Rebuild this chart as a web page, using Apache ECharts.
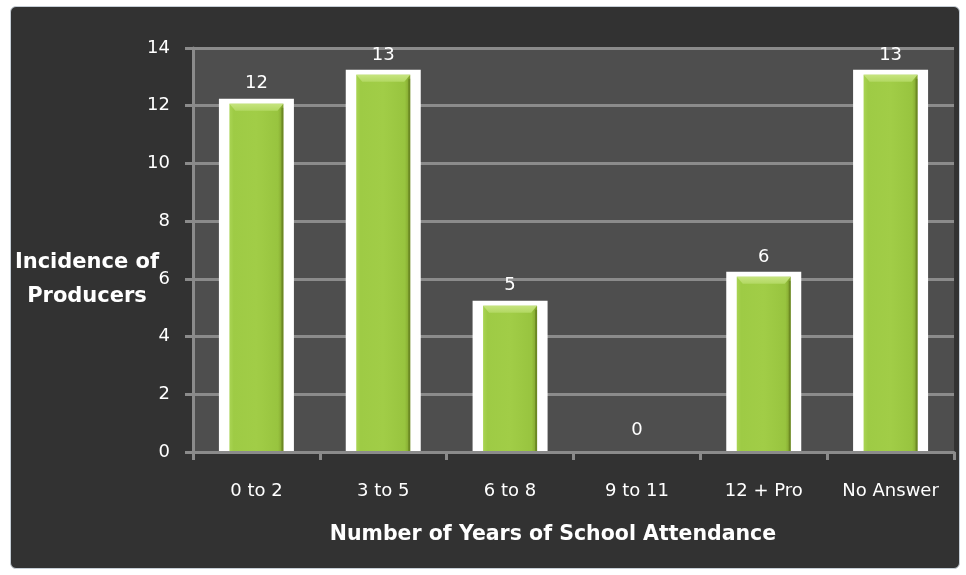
<!DOCTYPE html>
<html>
<head>
<meta charset="utf-8">
<title>Years of School Attendance</title>
<script src="https://cdn.jsdelivr.net/npm/echarts@6/dist/echarts.min.js"></script>
<style>
  html, body { margin: 0; padding: 0; background: #ffffff; }
  #wrap { position: relative; width: 966px; height: 575px; overflow: hidden; }
  #panel {
    position: absolute; left: 10px; top: 6px; width: 950px; height: 563px;
    background: #323232; border: 1px solid #c6ced6; border-radius: 6px; box-sizing: border-box;
  }
  #chart { position: absolute; left: 0; top: 0; width: 966px; height: 575px; }
</style>
</head>
<body>
<div id="wrap">
  <div id="panel"></div>
  <div id="chart"></div>
</div>
<script>
// Survey of producers by years of schooling
const categories = ['0 to 2', '3 to 5', '6 to 8', '9 to 11', '12 + Pro', 'No Answer'];
const producers = [12, 13, 5, 0, 6, 13];
const yTickMin = 0;
const yTickMax = 14;
const yTickStep = 2;
const yAxisTitle = 'Incidence of\nProducers';
const xAxisTitle = 'Number of Years of School Attendance';

const chart = echarts.init(document.getElementById('chart'), null, { renderer: 'canvas' });

const axisGray = '#8b8b8b';
const labelFont = 'DejaVu Sans';

// White-framed bevelled green column, built from the axis scale
function renderColumn(params, api) {
  const idx = api.value(0);
  const v = api.value(1);
  const top = api.coord([idx, v]);
  const base = api.coord([idx, 0]);
  const cx = top[0];
  const children = [];
  if (v > 0) {
    const frameTop = top[1] - 7;
    const barTop = top[1] - 2;
    const bottom = base[1] - 1;
    children.push({
      type: 'rect',
      shape: { x: cx - 37.5, y: frameTop, width: 75, height: bottom - frameTop },
      style: { fill: '#ffffff' }
    });
    children.push({
      type: 'rect',
      shape: { x: cx - 27, y: barTop, width: 54, height: bottom - barTop },
      style: {
        fill: new echarts.graphic.LinearGradient(0, 0, 1, 0, [
          { offset: 0, color: '#a9d453' },
          { offset: 0.08, color: '#9ecb45' },
          { offset: 0.5, color: '#a1cd47' },
          { offset: 0.9, color: '#98c43f' },
          { offset: 1, color: '#7f9f2c' }
        ])
      }
    });
    // top bevel
    children.push({
      type: 'polygon',
      shape: { points: [[cx - 27, barTop], [cx + 27, barTop], [cx + 21, barTop + 7], [cx - 21, barTop + 7]] },
      style: {
        fill: new echarts.graphic.LinearGradient(0, 0, 0, 1, [
          { offset: 0, color: '#c6e47f' },
          { offset: 1, color: '#b2d862' }
        ])
      }
    });
    // shaded right edge
    children.push({
      type: 'rect',
      shape: { x: cx + 25, y: barTop + 4, width: 2, height: bottom - barTop - 4 },
      style: { fill: 'rgba(90,115,25,0.55)' }
    });
  }
  children.push({
    type: 'text',
    style: {
      text: String(v),
      x: cx,
      y: top[1] - 13,
      align: 'center',
      verticalAlign: 'bottom',
      fill: '#ffffff',
      font: '18px "' + labelFont + '"'
    }
  });
  return { type: 'group', children };
}

chart.setOption({
  backgroundColor: 'transparent',
  animation: false,
  grid: {
    left: 193, right: 12, top: 48, bottom: 123,
    show: true, backgroundColor: '#4e4e4e', borderWidth: 0
  },
  xAxis: {
    type: 'category',
    data: categories,
    boundaryGap: true,
    axisLine: { show: true, lineStyle: { color: axisGray, width: 3 } },
    axisTick: { show: true, length: 8, alignWithLabel: false, lineStyle: { color: axisGray, width: 3 } },
    axisLabel: { color: '#ffffff', fontSize: 18, fontFamily: labelFont, margin: 30 },
    splitLine: { show: false }
  },
  yAxis: {
    type: 'value',
    min: yTickMin,
    max: yTickMax,
    interval: yTickStep,
    axisLine: { show: true, lineStyle: { color: axisGray, width: 3 } },
    axisTick: { show: true, length: 8, lineStyle: { color: axisGray, width: 3 } },
    axisLabel: { color: '#ffffff', fontSize: 18, fontFamily: labelFont, margin: 23 },
    splitLine: { show: true, lineStyle: { color: axisGray, width: 3 } }
  },
  graphic: [
    {
      type: 'text',
      x: 87, y: 280,
      z: 10,
      style: {
        text: yAxisTitle,
        align: 'center',
        verticalAlign: 'middle',
        fill: '#ffffff',
        font: 'bold 21px "' + labelFont + '"',
        lineHeight: 34
      }
    },
    {
      type: 'text',
      x: 553, y: 535,
      style: {
        text: xAxisTitle,
        align: 'center',
        verticalAlign: 'middle',
        fill: '#ffffff',
        font: 'bold 20.5px "' + labelFont + '"'
      }
    }
  ],
  series: [{
    type: 'custom',
    silent: true,
    data: producers.map((v, i) => [i, v]),
    encode: { x: 0, y: 1 },
    renderItem: renderColumn,
    clip: false
  }]
});
</script>
</body>
</html>
